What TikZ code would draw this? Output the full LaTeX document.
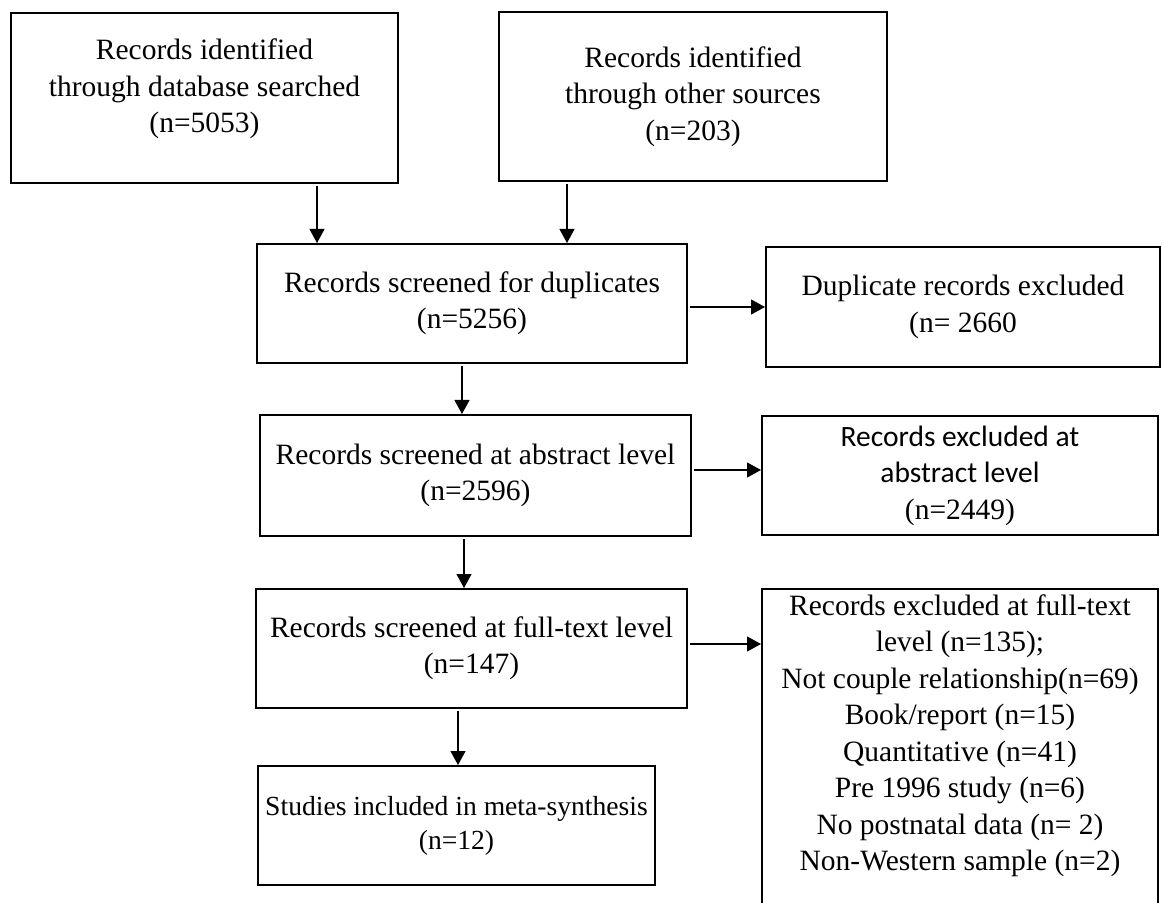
\documentclass[tikz,border=0pt]{standalone}
\usepackage{fontspec}
\setmainfont{Liberation Serif}
\newfontfamily\calib{Carlito}
\usetikzlibrary{arrows.meta}
\begin{document}
\begin{tikzpicture}[x=0.5pt,y=-0.5pt,
  box/.style={draw, line width=1pt, inner sep=0pt, align=center,
    font=\fontsize{14.75}{18.25}\selectfont},
  txt/.style={inner sep=0pt, align=center, font=\fontsize{14.75}{18.25}\selectfont},
  arr/.style={line width=0.6pt, -{Triangle[length=7pt,width=7.5pt]}, shorten <=1pt}]
\useasboundingbox (0,0) rectangle (1162,903);
% boxes
\node[box, minimum width=193.5pt, minimum height=85pt] (b1) at (204.5,98) {};
\node[txt] (t1) at (204.5,89) {Records identified\\through database searched\\(n=5053)};
\node[box, minimum width=194pt, minimum height=84.5pt] (b2) at (693,96.5)
  {Records identified\\through other sources\\(n=203)};
\node[box, minimum width=215pt, minimum height=59.5pt] (b3) at (472,303.5)
  {Records screened for duplicates\\(n=5256)};
\node[box, minimum width=197pt, minimum height=60pt] (b4) at (963,307)
  {Duplicate records excluded\\(n= 2660};
\node[box, minimum width=215.5pt, minimum height=60.5pt] (b5) at (475.5,475.5)
  {Records screened at abstract level\\(n=2596)};
\node[box, minimum width=198pt, minimum height=59.5pt] (b6) at (960,475.5)
  {{\calib Records excluded at}\\{\calib abstract level}\\(n=2449)};
\node[box, minimum width=215.5pt, minimum height=59.5pt] (b7) at (471.5,648.5)
  {Records screened at full-text level\\(n=147)};
\node[box, minimum width=198pt, minimum height=163pt] (b8) at (960,752) {};
\node[txt] (t8) at (960,736) {Records excluded at full-text\\level (n=135);\\Not couple relationship(n=69)\\Book/report (n=15)\\Quantitative (n=41)\\Pre 1996 study (n=6)\\No postnatal data (n= 2)\\Non-Western sample (n=2)};
\node[box, minimum width=198.5pt, minimum height=59.5pt,
  font=\fontsize{13.8}{17}\selectfont] (b9) at (456.5,825.5)
  {Studies included in meta-synthesis\\(n=12)};
% arrow positions
\coordinate (c1) at (317,0);
\coordinate (c2) at (567,0);
\coordinate (c3) at (462,0);
\coordinate (c6) at (464,0);
\coordinate (c8) at (458,0);
\coordinate (r4) at (0,307);
\coordinate (r5) at (0,470);
\coordinate (r7) at (0,644);
% connectors
\draw[arr] (c1 |- b1.south) -- (c1 |- b3.north);
\draw[arr] (c2 |- b2.south) -- (c2 |- b3.north);
\draw[arr] (c3 |- b3.south) -- (c3 |- b5.north);
\draw[arr] (b3.east |- r4) -- (b4.west |- r4);
\draw[arr] (b5.east |- r5) -- (b6.west |- r5);
\draw[arr] (c6 |- b5.south) -- (c6 |- b7.north);
\draw[arr] (b7.east |- r7) -- (b8.west |- r7);
\draw[arr] (c8 |- b7.south) -- (c8 |- b9.north);
\end{tikzpicture}
\end{document}
